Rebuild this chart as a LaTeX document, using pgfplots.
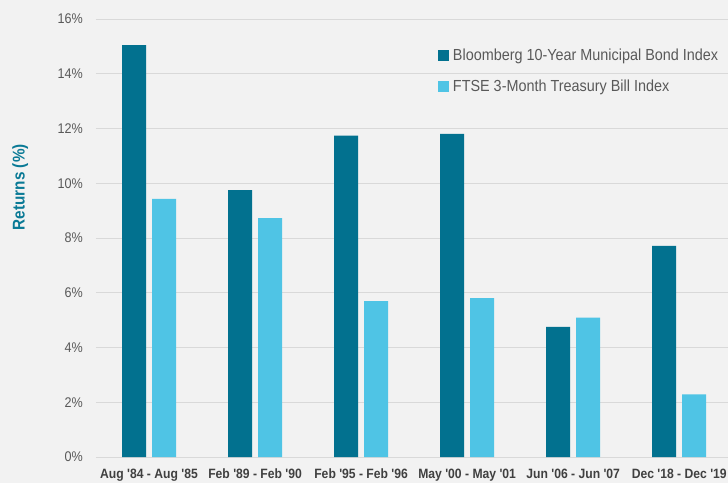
\documentclass[border=0pt]{standalone}
\usepackage{fontspec}
\setmainfont{Liberation Sans}
\newfontfamily\narrowfont{Liberation Sans}[FakeStretch=0.9]
\usepackage{pgfplots}
\pgfplotsset{compat=1.18}
\definecolor{bgc}{HTML}{F2F2F2}
\definecolor{gridc}{HTML}{D9D9D9}
\definecolor{darkbar}{HTML}{02718F}
\definecolor{lightbar}{HTML}{4FC4E5}
\definecolor{labc}{HTML}{0A7A96}
\definecolor{txtc}{HTML}{595959}
\definecolor{xtc}{HTML}{404040}
\begin{document}
\begin{tikzpicture}
\fill[bgc, use as bounding box] (-96pt,-26pt) rectangle (632pt,457pt);
\begin{axis}[
  scale only axis,
  width=632pt, height=438pt,
  at={(0pt,0pt)}, anchor=south west,
  ybar=6pt, bar width=24pt,
  xmin=-0.5, xmax=5.46,
  ymin=0, ymax=16,
  xtick={0,1,2,3,4,5},
  xticklabels={Aug '84 - Aug '85, Feb '89 - Feb '90, Feb '95 - Feb '96, May '00 - May '01, Jun '06 - Jun '07, Dec '18 - Dec '19},
  ytick={0,2,...,16},
  yticklabel={\pgfmathprintnumber[assume math mode=true]{\tick}\%},
  major tick length=0pt,
  axis line style={draw=none},
  ymajorgrids,
  grid style={gridc, line width=1pt},
  yticklabel style={anchor=east, inner sep=0pt, xshift=-13pt, font=\narrowfont\fontsize{14}{16}\selectfont, text=txtc},
  xticklabel style={anchor=north, inner sep=0pt, yshift=-12pt, font=\narrowfont\bfseries\fontsize{13.5}{15}\selectfont, text=xtc},
  ylabel={Returns (\%)},
  every axis y label/.style={at={(axis description cs:-0.12,0.616)}, rotate=90, anchor=center, font=\narrowfont\bfseries\fontsize{17}{19}\selectfont, text=labc},
  legend style={draw=none, fill=none, at={(axis description cs:0.536,0.936)}, anchor=north west,
    font=\narrowfont\fontsize{16}{18}\selectfont, text=txtc, row sep=18pt,
    nodes={inner sep=0pt}, /tikz/every odd column/.append style={column sep=4pt}},
  legend cell align=left,
  legend image code/.code={\fill[#1] (0pt,-5.5pt) rectangle (11pt,5.5pt);},
]
\addplot[fill=darkbar, draw=none] coordinates {(0,15.05) (1,9.75) (2,11.74) (3,11.80) (4,4.75) (5,7.71)};
\addplot[fill=lightbar, draw=none] coordinates {(0,9.43) (1,8.73) (2,5.69) (3,5.80) (4,5.09) (5,2.29)};
\legend{Bloomberg 10-Year Municipal Bond Index, FTSE 3-Month Treasury Bill Index}
\end{axis}
\end{tikzpicture}
\end{document}
